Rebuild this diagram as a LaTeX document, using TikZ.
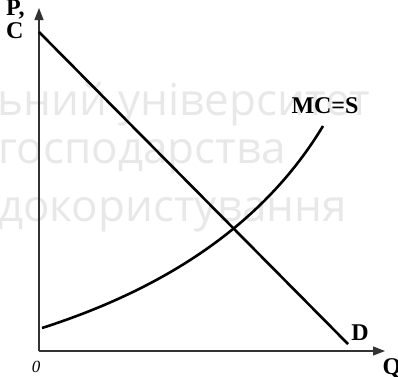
\documentclass[tikz,border=0pt]{standalone}
\usepackage{fontspec}
\setmainfont{Liberation Serif}
\newfontfamily\wmfont{Open Sans}
\usepackage{xcolor}
\usetikzlibrary{positioning, arrows.meta}

\begin{document}
\begin{tikzpicture}[
        x=1pt, y=1pt,
        axis/.style={-{Triangle[length=12pt, width=9pt]}, line width=1.3pt, draw=black!80},
        curve/.style={line width=2.6pt, draw=black},
        lab/.style={font=\fontsize{24}{23}\selectfont\bfseries, inner sep=0pt},
        wm/.style={font=\fontsize{44}{44}\selectfont\wmfont, text=black!9, anchor=base west, inner sep=0pt}
    ]
        \useasboundingbox (0,0) rectangle (398,376);

        % Watermark
        \node[wm] (wm1) at (-3,261) {ьний університет};
        \node[wm] (wm2) at (-2,213) {господарства};
        \node[wm] (wm3) at (-2,155) {докористування};

        % Axes
        \coordinate (o) at (39,25);
        \coordinate (ytop) at (39,368);
        \coordinate (xend) at (385,25);
        \draw[axis] (o) -- (ytop);
        \draw[axis] (o) -- (xend);

        % Curves
        \coordinate (d1) at (39,344);
        \coordinate (d2) at (348,32);
        \coordinate (s1) at (42,48);
        \coordinate (s2) at (323,250);
        \draw[curve] (d1) -- (d2);
        \draw[curve] (s1) .. controls (173,90) and (267,157) .. (s2);

        % Labels
        \node[lab, align=left, anchor=north west] (pc) at (6,376) {P,\\C};
        \node[lab] (mcs) at (325,270) {MC=S};
        \node[lab] (dlab) at (360,43) {D};
        \node[lab] (qlab) at (392,8) {Q};
        \node[font=\fontsize{17}{17}\selectfont\itshape, inner sep=0pt] (zero) at (36,9) {0};

    \end{tikzpicture}
\end{document}
